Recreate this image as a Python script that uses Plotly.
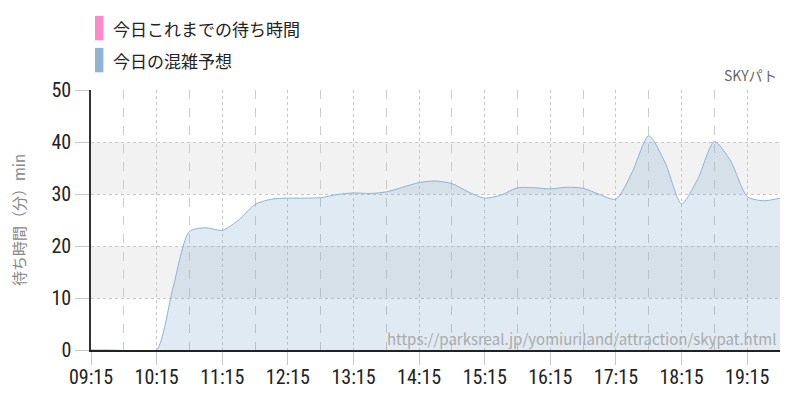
import plotly.graph_objects as go
import pandas as pd

# 予想の混雑 (15分刻み)
times = pd.date_range("2024-01-01 09:15", "2024-01-01 19:45", freq="15min")
forecast = [0, 0, -0.1, -0.4, 0, 12, 22.8, 23.5, 23, 25, 28, 29, 29.2, 29.2, 29.3,
            29.9, 30.2, 30.1, 30.4, 31.3, 32.2, 32.5, 32.0, 30.4, 29.2, 29.8, 31.2,
            31.2, 31.0, 31.3, 31.1, 29.9, 29.0, 34.3, 41.2, 36.0, 28.1, 33.0, 40.1,
            36.3, 29.5, 28.7, 29.2]
actual = []  # 今日これまでの待ち時間 (データなし)

legend_names = ["今日これまでの待ち時間", "今日の混雑予想"]
legend_colors = ["#ff88c8", "#8fb3d3"]
bands = [(10, 20), (30, 40)]

num_font = "Liberation Sans Narrow, Roboto Condensed, Roboto, sans-serif"
jp_font = "Noto Sans CJK JP, sans-serif"

fig = go.Figure()
fig.add_trace(go.Scatter(x=times, y=forecast, mode="lines",
                         line=dict(color="#8fb3d3", width=1, shape="spline", smoothing=0.7),
                         fill="tozeroy", fillcolor="rgba(120,164,202,0.23)",
                         cliponaxis=False, showlegend=False, hoverinfo="skip"))
fig.add_trace(go.Scatter(x=times[:len(actual)], y=actual, mode="lines",
                         line=dict(color="#ff88c8", width=2), showlegend=False))

for lo, hi in bands:
    fig.add_shape(type="rect", xref="paper", yref="y", x0=0, x1=1, y0=lo, y1=hi,
                  fillcolor="#f2f2f2", line_width=0, layer="below")

# 凡例
for i, (name, col) in enumerate(zip(legend_names, legend_colors)):
    yy = 1.238 - i * 0.123
    fig.add_shape(type="rect", xref="paper", yref="paper", x0=0.0058, x1=0.018,
                  y0=yy - 0.047, y1=yy + 0.047, fillcolor=col, line_width=0)
    fig.add_annotation(text=name, xref="paper", yref="paper", x=0.0295, y=yy,
                       xanchor="left", yanchor="middle", showarrow=False,
                       font=dict(family=jp_font, size=17, color="#222"))

fig.add_annotation(text="SKYパト", xref="paper", yref="paper", x=0.998, y=1.012,
                   xanchor="right", yanchor="bottom", showarrow=False,
                   font=dict(family=jp_font, size=14, color="#666"))
fig.add_annotation(text="https://parksreal.jp/yomiuriland/attraction/skypat.html",
                   xref="paper", yref="paper", x=0.998, y=0.045,
                   xanchor="right", yanchor="middle", showarrow=False,
                   font=dict(family=jp_font, size=15, color="#aaa"))

fig.update_xaxes(type="date", range=["2024-01-01 09:15", "2024-01-01 19:45"],
                 tick0="2024-01-01 09:15", dtick=3600000, tickformat="%H:%M",
                 showgrid=True, gridcolor="#c8c8c8", griddash="dot", gridwidth=1,
                 ticks="outside", ticklen=13, tickcolor="#c8c8c8",
                 ticklabelstandoff=-5,
                 showline=True, linecolor="#222", linewidth=1.5, automargin=False,
                 tickfont=dict(family=num_font, size=20, color="#222"),
                 minor=dict(tick0="2024-01-01 09:45", dtick=3600000, showgrid=True,
                            gridcolor="#cccccc", griddash="dash", gridwidth=1),
                 zeroline=False)
fig.update_yaxes(range=[0, 50], dtick=10, showgrid=True, gridcolor="#c8c8c8",
                 griddash="dot", ticks="outside", ticklen=14, tickcolor="#c8c8c8",
                 showline=True, linecolor="#333", linewidth=1.5, zeroline=False,
                 automargin=False,
                 tickfont=dict(family=num_font, size=20, color="#222"),
                 title=dict(text="待ち時間（分）min", standoff=22,
                            font=dict(family=jp_font, size=15, color="#888")))

# ページ余白 8px を考慮して 792x392 に
fig.update_layout(width=792, height=392, plot_bgcolor="white", paper_bgcolor="white",
                  margin=dict(l=83, r=20, t=82, b=50), showlegend=False)

fig.write_html("out.html")
